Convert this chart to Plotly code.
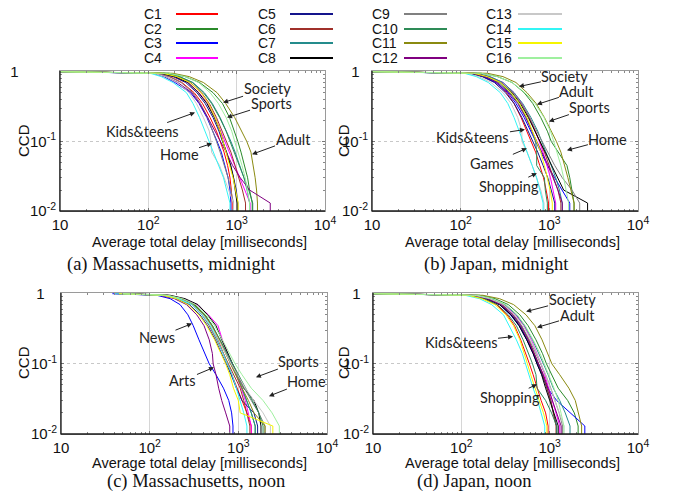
import math
import plotly.graph_objects as go

W, H = 674, 493

CATEGORIES = ["C1", "C2", "C3", "C4", "C5", "C6", "C7", "C8",
              "C9", "C10", "C11", "C12", "C13", "C14", "C15", "C16"]
COLORS = ["#ff0000", "#2a8a2a", "#0000ff", "#ff00ff", "#14148c", "#a0302a",
          "#248c8c", "#000000", "#808080", "#2e8b57", "#8a8a10", "#800080",
          "#c8c8c8", "#33f5f5", "#f5f500", "#9ff09f"]

# CCD levels at which the delay (ms) of every curve was read
CCD_LEVELS = [1.0, 0.95, 0.85, 0.7, 0.5, 0.35, 0.22, 0.14, 0.1, 0.07, 0.045, 0.03, 0.02, 0.013]

# (a) Massachusetts, midnight  -- delay [ms] at each CCD level, C1..C16
MA_MIDNIGHT = [
    [10, 130, 175, 240, 330, 410, 500, 590, 650, 720, 790, 840, 870, 890],
    [10, 170, 260, 380, 540, 690, 830, 950, 1030, 1120, 1230, 1330, 1400, 1500],
    [10, 115, 150, 200, 300, 375, 460, 540, 600, 670, 740, 800, 840, 860],
    [10, 140, 200, 280, 375, 470, 570, 660, 730, 830, 960, 1100, 1250, 1420],
    [10, 135, 190, 265, 355, 440, 540, 630, 690, 770, 860, 930, 990, 1030],
    [10, 150, 215, 300, 400, 490, 590, 690, 770, 860, 960, 1060, 1160, 1260],
    [10, 155, 225, 320, 430, 530, 650, 770, 860, 960, 1090, 1210, 1310, 1400],
    [10, 140, 200, 280, 370, 460, 560, 650, 700, 770, 850, 920, 970, 1010],
    [10, 125, 170, 235, 320, 390, 470, 540, 590, 650, 730, 800, 860, 920],
    [10, 150, 225, 315, 420, 520, 640, 760, 840, 940, 1070, 1220, 1370, 1520],
    [10, 190, 290, 420, 600, 750, 950, 1150, 1300, 1450, 1550, 1620, 1680, 1720],
    [10, 115, 155, 215, 310, 380, 470, 570, 650, 760, 900, 1100, 1400, 2400],
    [10, 115, 155, 210, 290, 350, 420, 490, 510, 520, 640, 720, 820, 920],
    [10, 105, 140, 190, 270, 320, 380, 440, 490, 550, 630, 710, 770, 840],
    [10, 145, 210, 295, 395, 480, 570, 650, 700, 760, 840, 910, 970, 1040],
    [10, 170, 260, 370, 500, 620, 760, 880, 950, 1040, 1150, 1250, 1330, 1400],
]

# (b) Japan, midnight
JP_MIDNIGHT = [
    [10, 130, 180, 250, 330, 400, 480, 560, 620, 700, 780, 860, 920, 980],
    [10, 170, 260, 380, 520, 650, 800, 950, 1050, 1250, 1580, 1700, 1800, 1900],
    [10, 130, 180, 250, 340, 420, 520, 620, 700, 800, 950, 1150, 1400, 1700],
    [10, 145, 210, 300, 400, 490, 600, 700, 770, 850, 940, 1030, 1100, 1180],
    [10, 125, 175, 240, 320, 400, 490, 580, 650, 740, 850, 960, 1050, 1150],
    [10, 140, 200, 285, 385, 480, 590, 700, 780, 880, 1000, 1120, 1250, 1350],
    [10, 150, 215, 300, 400, 500, 620, 740, 820, 920, 1050, 1180, 1300, 1400],
    [10, 140, 200, 280, 380, 470, 580, 690, 780, 900, 1050, 1250, 1450, 2700],
    [10, 140, 200, 285, 385, 480, 600, 720, 820, 950, 1150, 1400, 1800, 2200],
    [10, 135, 190, 270, 360, 450, 550, 640, 700, 720, 720, 880, 900, 950],
    [10, 200, 300, 420, 560, 710, 880, 1060, 1200, 1350, 1500, 1620, 1750, 1900],
    [10, 135, 190, 260, 350, 440, 540, 640, 720, 830, 970, 1100, 1250, 1400],
    [10, 115, 160, 220, 300, 370, 440, 490, 490, 560, 640, 720, 800, 870],
    [10, 110, 150, 205, 280, 340, 400, 460, 500, 560, 640, 720, 780, 850],
    [10, 140, 200, 280, 370, 460, 560, 650, 720, 800, 880, 950, 1020, 1080],
    [10, 170, 260, 380, 530, 690, 870, 1030, 1120, 1220, 1350, 1450, 1550, 1650],
]

# (c) Massachusetts, noon
MA_NOON = [
    [45, 160, 230, 320, 420, 500, 590, 680, 760, 860, 980, 1100, 1250, 1400],
    [45, 160, 230, 320, 420, 510, 610, 730, 830, 950, 1100, 1250, 1400, 1550],
    [38, 120, 170, 220, 270, 310, 360, 420, 470, 560, 680, 780, 840, 870],
    [45, 160, 240, 340, 460, 590, 660, 760, 850, 960, 1080, 1200, 1300, 1400],
    [45, 140, 200, 280, 370, 450, 550, 650, 730, 830, 950, 1100, 1500, 1650],
    [45, 150, 220, 300, 390, 470, 570, 680, 780, 900, 1050, 1150, 1250, 1350],
    [45, 150, 220, 310, 410, 500, 620, 740, 840, 960, 1100, 1250, 1400, 1550],
    [60, 170, 250, 350, 450, 560, 650, 760, 860, 980, 1150, 1500, 1700, 1800],
    [45, 150, 220, 310, 410, 500, 610, 720, 820, 950, 1150, 1400, 1700, 2000],
    [45, 155, 225, 315, 420, 510, 620, 750, 860, 1000, 1200, 1450, 1700, 1900],
    [50, 155, 225, 310, 410, 500, 610, 720, 820, 940, 1100, 1300, 1500, 2000],
    [40, 130, 190, 260, 340, 410, 470, 510, 520, 560, 600, 650, 720, 800],
    [45, 150, 215, 300, 400, 490, 600, 720, 830, 980, 1200, 1500, 1900, 2300],
    [40, 140, 210, 300, 390, 480, 580, 680, 760, 850, 950, 1050, 1150, 1250],
    [45, 140, 200, 270, 360, 440, 540, 640, 720, 800, 880, 1000, 1050, 2450],
    [50, 160, 235, 330, 440, 540, 660, 800, 920, 1100, 1400, 1900, 2400, 2900],
]

# (d) Japan, noon
JP_NOON = [
    [10, 125, 180, 250, 330, 400, 470, 540, 590, 650, 720, 800, 900, 960],
    [10, 160, 240, 340, 460, 570, 700, 830, 920, 1050, 1250, 1600, 1900, 2100],
    [10, 130, 190, 270, 360, 450, 550, 650, 720, 820, 950, 1200, 1700, 2500],
    [10, 145, 210, 300, 410, 510, 620, 720, 800, 880, 980, 1080, 1180, 1300],
    [10, 135, 195, 275, 370, 460, 560, 660, 740, 830, 930, 1030, 1100, 1200],
    [10, 140, 205, 290, 390, 480, 580, 680, 750, 840, 930, 1030, 1100, 1180],
    [10, 150, 220, 310, 420, 520, 640, 760, 850, 960, 1100, 1300, 1500, 1700],
    [10, 130, 190, 270, 365, 450, 550, 650, 720, 810, 900, 1000, 1100, 1250],
    [10, 135, 200, 285, 385, 480, 590, 700, 790, 900, 1030, 1150, 1280, 1400],
    [10, 125, 180, 255, 340, 420, 500, 580, 640, 700, 720, 900, 1050, 1200],
    [10, 175, 270, 390, 540, 680, 820, 960, 1060, 1300, 1650, 1950, 2100, 2300],
    [10, 135, 195, 280, 380, 470, 570, 670, 750, 850, 960, 1080, 1200, 1350],
    [10, 140, 210, 300, 400, 500, 610, 720, 800, 900, 1020, 1150, 1300, 1450],
    [10, 110, 160, 220, 300, 350, 420, 490, 530, 580, 650, 730, 800, 880],
    [10, 120, 170, 240, 320, 390, 460, 520, 560, 610, 680, 760, 850, 930],
    [10, 150, 225, 320, 430, 530, 650, 780, 870, 980, 1120, 1250, 1350, 1450],
]

PANEL_DATA = [MA_MIDNIGHT, JP_MIDNIGHT, MA_NOON, JP_NOON]
PANEL_CAPTIONS = ["(a) Massachusetts, midnight", "(b) Japan, midnight",
                  "(c) Massachusetts, noon", "(d) Japan, noon"]

X_TICKS = [10, 100, 1000, 10000]
X_TICKTEXT = ["10", "10<sup>2</sup>", "10<sup>3</sup>", "10<sup>4</sup>"]
Y_TICKS = [0.01, 0.1, 1]
Y_TICKTEXT = ["10<sup>-2</sup>", "10<sup>-1</sup>", "1"]
# the "1" label sits further left in each panel of the original
ONE_LABEL_PAD = [9, 2, 3, 2]

X_TITLE = "Average total delay [milliseconds]"
Y_TITLE = "CCD"

# callouts: label, delay [ms] and CCD pointed at
CALLOUTS = [
    [("Society", 702, 0.360), ("Sports", 778, 0.220), ("Kids&teens", 338, 0.259),
     ("Home", 526, 0.0935), ("Adult", 1493, 0.0652)],
    [("Society", 454, 0.611), ("Adult", 724, 0.338), ("Sports", 989, 0.193),
     ("Kids&teens", 531, 0.148), ("Home", 1578, 0.0743), ("Games", 558, 0.0794),
     ("Shopping", 724, 0.0349)],
    [("News", 300, 0.375), ("Arts", 531, 0.0891), ("Sports", 1578, 0.0644),
     ("Home", 2213, 0.0346)],
    [("Society", 541, 0.556), ("Adult", 719, 0.330), ("Kids&teens", 385, 0.245),
     ("Shopping", 719, 0.0512)],
]
# text offsets from arrow head (pixels)
CALLOUT_OFFSETS = [
    [(44, -14), (44, -14), (-53, 19), (-33, 11), (41, -15)],
    [(46, -10), (40, -13), (41, -14), (-52, 8), (41, -11), (-35, 15), (-28, 13)],
    [(-35, 14), (-31, 13), (43, -16), (38, -15)],
    [(46, -12), (40, -12), (-52, 6), (-27, 13)],
]

# layout in pixels: (left, right, top, bottom)
PANEL_BOXES = [(60, 325, 71, 211), (372, 638, 71, 211),
               (61, 327, 293, 434), (373, 638, 293, 434)]
XTITLE_POS = [(199, 242), (512, 242), (199, 463), (512, 463)]
YTITLE_POS = [(23, 141), (343, 141), (23, 363), (343, 363)]
CAPTION_POS = [(171, 264), (496, 264), (196, 481), (474, 481)]


def fx(p):
    return p / W


def fy(p):
    return 1 - p / H


SANS = "Liberation Sans, Arial, sans-serif"
fig = go.Figure()

for i, data in enumerate(PANEL_DATA):
    xa = "x" if i == 0 else f"x{i + 1}"
    ya = "y" if i == 0 else f"y{i + 1}"
    for name, color, xs in zip(CATEGORIES, COLORS, data):
        fig.add_trace(go.Scatter(
            x=xs + [xs[-1]], y=CCD_LEVELS + [0.003], mode="lines", name=name,
            line=dict(color=color, width=1), xaxis=xa, yaxis=ya,
            showlegend=False, hoverinfo="skip"))

layout = dict(width=W, height=H,
              margin=dict(l=0, r=0, t=0, b=0, pad=0, autoexpand=False),
              paper_bgcolor="white", plot_bgcolor="white", showlegend=False)

annotations = []
shapes = []
for i, (l, r, t, b) in enumerate(PANEL_BOXES):
    sfx = "" if i == 0 else str(i + 1)
    ytext = Y_TICKTEXT[:-1] + [Y_TICKTEXT[-1] + "\u00a0" * ONE_LABEL_PAD[i]]
    layout["xaxis" + sfx] = dict(
        type="log", range=[1, 4], domain=[fx(l), fx(r)], anchor="y" + sfx,
        tickvals=X_TICKS, ticktext=X_TICKTEXT, ticks="inside", ticklen=3,
        tickcolor="#777", showgrid=True, gridcolor="#d6d6d6", gridwidth=1,
        showline=True, linecolor="#9a9a9a", linewidth=1, mirror="allticks",
        zeroline=False, automargin=False,
        tickfont=dict(family=SANS, size=15, color="#111"),
        minor=dict(ticks="inside", ticklen=2, tickcolor="#888", dtick="D1", showgrid=False))
    layout["yaxis" + sfx] = dict(
        type="log", range=[-2, 0.01], domain=[fy(b), fy(t)], anchor="x" + sfx,
        tickvals=Y_TICKS, ticktext=ytext, ticks="inside", ticklen=3,
        tickcolor="#777", showgrid=True, gridcolor="#c8c8c8", griddash="dot",
        showline=True, linecolor="#9a9a9a", linewidth=1, mirror="allticks",
        zeroline=False, automargin=False,
        tickfont=dict(family=SANS, size=15, color="#111"),
        minor=dict(ticks="inside", ticklen=2, tickcolor="#888", dtick="D1", showgrid=False))
    # dark left and bottom frame lines
    shapes.append(dict(type="line", xref="x" + sfx + " domain", yref="y" + sfx + " domain",
                       x0=0, x1=0, y0=0, y1=1, line=dict(color="#1a1a1a", width=1.3)))
    shapes.append(dict(type="line", xref="x" + sfx + " domain", yref="y" + sfx + " domain",
                       x0=0, x1=1, y0=0, y1=0, line=dict(color="#1a1a1a", width=1.3)))

    xt = XTITLE_POS[i]
    annotations.append(dict(text=X_TITLE, x=fx(xt[0]), y=fy(xt[1]), xref="paper", yref="paper",
                            showarrow=False, xanchor="center", yanchor="middle",
                            font=dict(family=SANS, size=14.5, color="#111")))
    yt = YTITLE_POS[i]
    annotations.append(dict(text=Y_TITLE, x=fx(yt[0]), y=fy(yt[1]), xref="paper", yref="paper",
                            showarrow=False, xanchor="center", yanchor="middle", textangle=-90,
                            font=dict(family=SANS, size=15, color="#111")))
    cp = CAPTION_POS[i]
    annotations.append(dict(text=PANEL_CAPTIONS[i], x=fx(cp[0]), y=fy(cp[1]), xref="paper",
                            yref="paper", showarrow=False, xanchor="center", yanchor="middle",
                            font=dict(family="Liberation Serif, Times New Roman, serif",
                                      size=18.5, color="#111")))
    for (label, xv, yv), (ox, oy) in zip(CALLOUTS[i], CALLOUT_OFFSETS[i]):
        annotations.append(dict(
            text=label, x=math.log10(xv), y=math.log10(yv), xref="x" + sfx, yref="y" + sfx,
            ax=ox, ay=oy, showarrow=True, arrowhead=2, arrowsize=1, arrowwidth=1,
            arrowcolor="#222", standoff=0, borderpad=0,
            font=dict(family="Lato, Liberation Sans, sans-serif", size=14.5, color="#222")))

# legend: 4 columns x 4 rows, label left of line
LEG_LABEL_X = [143, 257, 371, 485]
LEG_LINE_X = [(176, 218), (290, 333), (404, 447), (518, 562)]
LEG_ROW_Y = [14, 29, 43, 58]
for k, (name, color) in enumerate(zip(CATEGORIES, COLORS)):
    c, rw = divmod(k, 4)
    y = LEG_ROW_Y[rw]
    annotations.append(dict(text=name, x=fx(LEG_LABEL_X[c]), y=fy(y), xref="paper", yref="paper",
                            showarrow=False, xanchor="left", yanchor="middle",
                            height=12, borderpad=0,
                            font=dict(family=SANS, size=14, color="#111")))
    x0, x1 = LEG_LINE_X[c]
    shapes.append(dict(type="line", xref="paper", yref="paper", x0=fx(x0), x1=fx(x1),
                       y0=fy(y), y1=fy(y), line=dict(color=color, width=2)))

layout["annotations"] = annotations
layout["shapes"] = shapes
fig.update_layout(**layout)
fig.write_html("out.html", config={"displayModeBar": False},
               post_script="document.body.style.margin='0px';document.body.style.padding='0px';")
